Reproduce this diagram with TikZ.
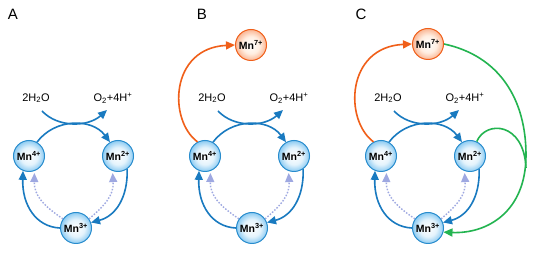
\documentclass[tikz,border=0pt]{standalone}
\usepackage{fontspec}
\setmainfont{Liberation Sans}
\usetikzlibrary{arrows.meta}
\definecolor{mnblue}{RGB}{25,122,192}
\definecolor{mnedge}{RGB}{40,140,205}
\definecolor{mnin}{RGB}{228,243,252}
\definecolor{mnout}{RGB}{140,203,242}
\definecolor{orng}{RGB}{240,95,25}
\definecolor{orin}{RGB}{255,238,225}
\definecolor{orout}{RGB}{250,182,148}
\definecolor{grn}{RGB}{35,180,80}
\definecolor{lav}{RGB}{158,168,225}
\pgfdeclareradialshading{mnball}{\pgfpoint{0bp}{0bp}}{color(0bp)=(white); color(14bp)=(mnin); color(25bp)=(mnout); color(50bp)=(mnout)}
\pgfdeclareradialshading{orball}{\pgfpoint{0bp}{0bp}}{color(0bp)=(white); color(14bp)=(orin); color(25bp)=(orout); color(50bp)=(orout)}
\tikzset{
  ion/.style={circle, draw=mnedge, line width=1pt, shading=mnball,
    minimum size=31pt, inner sep=0pt, font=\fontsize{10.5}{12}\selectfont\bfseries},
  ionseven/.style={ion, draw=orng, shading=orball},
  tip/.style={-{Triangle[length=9pt,width=8pt]}},
  flow/.style={draw=mnblue, line width=1.6pt, tip},
  dotflow/.style={draw=lav, line width=1.4pt, dash pattern=on 1.5pt off 1.6pt,
    tip, shorten >=2pt},
  oflow/.style={draw=orng, line width=1.6pt, tip},
  gflow/.style={draw=grn, line width=1.6pt},
  chem/.style={font=\fontsize{11}{13}\selectfont, inner sep=0pt},
  panel/.style={font=\fontsize{15}{17}\selectfont, inner sep=0pt},
}
\newcommand{\mncycle}{%
  \node[ion, shade] (m4) at (29,156) {Mn\textsuperscript{4+}};
  \node[ion, shade] (m2) at (118,156) {Mn\textsuperscript{2+}};
  \node[ion, shade] (m3) at (76,228) {Mn\textsuperscript{3+}};
  \node[chem] (w) at (36,98) {2H\textsubscript{2}O};
  \node[chem] (o) at (113,98) {O\textsubscript{2}+4H\textsuperscript{+}};
  \coordinate (ws) at (42,111);
  \coordinate (oe) at (107,110);
  \draw[flow] (ws) .. controls (58,128) and (88,127) .. (oe);
  \draw[flow] (m4.60) .. controls (55,118) and (92,118) .. (m2.120);
  \draw[flow] (m2.-55) .. controls (128,197) and (116,216) .. (m3.20);
  \draw[flow] (m3.west) .. controls (36,227) and (22,205) .. (m4.-112);
  \draw[dotflow] (m3.145) .. controls (44,206) and (34,196) .. (m4.-70);
  \draw[dotflow] (m3.35) .. controls (104,206) and (114,196) .. (m2.-110);
}
\begin{document}
\begin{tikzpicture}[x=1pt,y=-1pt]
\useasboundingbox[fill=white] (0,0) rectangle (536,253);
\begin{scope}[name prefix=a-]
  \node[panel] (lbl) at (13,14) {A};
  \mncycle
\end{scope}
\begin{scope}[xshift=176pt, name prefix=b-]
  \node[panel] (lbl) at (26,14) {B};
  \mncycle
  \node[ionseven, shade] (m7) at (75,45) {Mn\textsuperscript{7+}};
  \draw[oflow] (m4.118) .. controls (-8,120) and (-6,48) .. (m7.west);
\end{scope}
\begin{scope}[xshift=352pt, name prefix=c-]
  \node[panel] (lbl) at (9,14) {C};
  \mncycle
  \node[ionseven, shade] (m7) at (76,44) {Mn\textsuperscript{7+}};
  \draw[oflow] (m4.118) .. controls (-8,120) and (-6,47) .. (m7.west);
  \coordinate (gm) at (174,155);
  \draw[gflow, tip] (m7.east) .. controls (148,56) and (174,100) .. (gm)
     .. controls (174,212) and (135,234) .. (m3.-15);
  \draw[gflow] (m2.65) .. controls (134,120) and (172,122) .. (174,168);
\end{scope}
\end{tikzpicture}
\end{document}
